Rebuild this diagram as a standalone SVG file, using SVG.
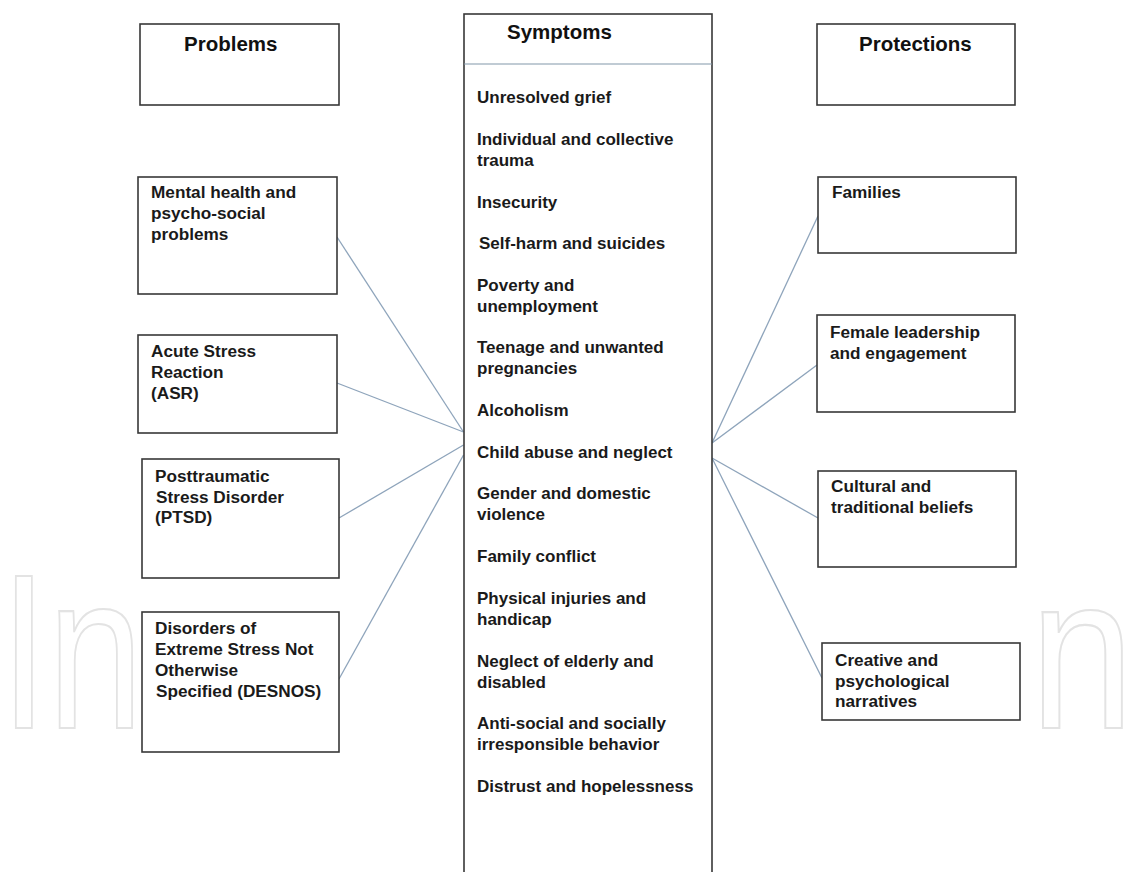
<svg xmlns="http://www.w3.org/2000/svg" width="1138" height="872" viewBox="0 0 1138 872">
  <style>
    .box { fill: #ffffff; stroke: #383838; stroke-width: 1.6; }
    .head { font-family: "Liberation Sans", Arial, sans-serif; font-weight: bold; font-size: 20.5px; fill: #111; }
    .item { font-family: "Liberation Sans", Arial, sans-serif; font-weight: bold; font-size: 17px; fill: #1a1a1a; }
    .rt { font-family: "Liberation Sans", Arial, sans-serif; font-weight: bold; font-size: 17.2px; fill: #1a1a1a; }
    .conn { stroke: #8ea4bb; stroke-width: 1.3; fill: none; }
    .wm { font-family: "Liberation Sans", Arial, sans-serif; font-size: 220px; fill: none; stroke: #e3e3e3; stroke-width: 2.2; }
  </style>

  <rect x="0" y="0" width="1138" height="872" fill="#ffffff"/>
  <g id="watermark">
    <text class="wm" transform="translate(0,728) scale(0.78,1)" x="0" y="0">In</text>
    <text class="wm" transform="translate(1030,728) scale(0.85,1)" x="0" y="0">n</text>
  </g>

  <g id="connectors">
    <line class="conn" x1="337" y1="237" x2="463.5" y2="432"/>
    <line class="conn" x1="337" y1="383" x2="463.5" y2="432"/>
    <line class="conn" x1="339" y1="518" x2="463.5" y2="445"/>
    <line class="conn" x1="339" y1="679" x2="463.5" y2="455"/>
    <line class="conn" x1="818" y1="216" x2="712" y2="443"/>
    <line class="conn" x1="817" y1="365" x2="712" y2="443"/>
    <line class="conn" x1="712" y1="458" x2="818" y2="518"/>
    <line class="conn" x1="712" y1="458" x2="822" y2="678"/>
  </g>

  <g id="problems">
    <rect class="box" x="140" y="24" width="199" height="81"/>
    <text class="head" x="184" y="51">Problems</text>
  </g>

  <g id="symptoms">
    <rect class="box" x="464" y="14" width="248" height="870"/>
    <line x1="464" y1="64" x2="712" y2="64" stroke="#8297aa" stroke-width="1.2"/>
    <text class="head" x="507" y="39">Symptoms</text>
    <text class="item" x="477" y="103">Unresolved grief</text>
    <text class="item" x="477" y="145">Individual and collective</text>
    <text class="item" x="477" y="166">trauma</text>
    <text class="item" x="477" y="208">Insecurity</text>
    <text class="item" x="479" y="249">Self-harm and suicides</text>
    <text class="item" x="477" y="291">Poverty and</text>
    <text class="item" x="477" y="312">unemployment</text>
    <text class="item" x="477" y="353">Teenage and unwanted</text>
    <text class="item" x="477" y="374">pregnancies</text>
    <text class="item" x="477" y="416">Alcoholism</text>
    <text class="item" x="477" y="458">Child abuse and neglect</text>
    <text class="item" x="477" y="499">Gender and domestic</text>
    <text class="item" x="477" y="520">violence</text>
    <text class="item" x="477" y="562">Family conflict</text>
    <text class="item" x="477" y="604">Physical injuries and</text>
    <text class="item" x="477" y="625">handicap</text>
    <text class="item" x="477" y="667">Neglect of elderly and</text>
    <text class="item" x="477" y="688">disabled</text>
    <text class="item" x="477" y="729">Anti-social and socially</text>
    <text class="item" x="477" y="750">irresponsible behavior</text>
    <text class="item" x="477" y="792">Distrust and hopelessness</text>
  </g>

  <g id="protections">
    <rect class="box" x="817" y="24" width="198" height="81"/>
    <text class="head" x="859" y="51">Protections</text>
  </g>

  <g id="mental-health">
    <rect class="box" x="138" y="177" width="199" height="117"/>
    <text class="rt" x="151" y="198">Mental health and</text>
    <text class="rt" x="151" y="219">psycho-social</text>
    <text class="rt" x="151" y="240">problems</text>
  </g>

  <g id="asr">
    <rect class="box" x="138" y="335" width="199" height="98"/>
    <text class="rt" x="151" y="357">Acute Stress</text>
    <text class="rt" x="151" y="378">Reaction</text>
    <text class="rt" x="151" y="399">(ASR)</text>
  </g>

  <g id="ptsd">
    <rect class="box" x="142" y="459" width="197" height="119"/>
    <text class="rt" x="155" y="482">Posttraumatic</text>
    <text class="rt" x="156" y="503">Stress Disorder</text>
    <text class="rt" x="155" y="523">(PTSD)</text>
  </g>

  <g id="desnos">
    <rect class="box" x="142" y="612" width="197" height="140"/>
    <text class="rt" x="155" y="634">Disorders of</text>
    <text class="rt" x="155" y="655">Extreme Stress Not</text>
    <text class="rt" x="155" y="676">Otherwise</text>
    <text class="rt" x="156" y="697">Specified (DESNOS)</text>
  </g>

  <g id="families">
    <rect class="box" x="818" y="177" width="198" height="76"/>
    <text class="rt" x="832" y="198">Families</text>
  </g>

  <g id="female-leadership">
    <rect class="box" x="817" y="315" width="198" height="97"/>
    <text class="rt" x="830" y="338">Female leadership</text>
    <text class="rt" x="830" y="359">and engagement</text>
  </g>

  <g id="cultural">
    <rect class="box" x="818" y="471" width="198" height="96"/>
    <text class="rt" x="831" y="492">Cultural and</text>
    <text class="rt" x="831" y="513">traditional beliefs</text>
  </g>

  <g id="creative">
    <rect class="box" x="822" y="643" width="198" height="77"/>
    <text class="rt" x="835" y="666">Creative and</text>
    <text class="rt" x="835" y="687">psychological</text>
    <text class="rt" x="835" y="707">narratives</text>
  </g>
</svg>
